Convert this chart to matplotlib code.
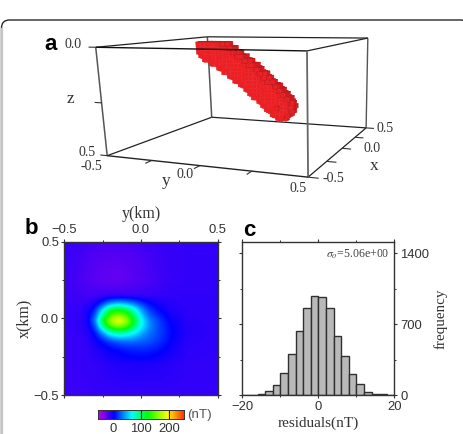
import numpy as np
import matplotlib
matplotlib.use("Agg")
import matplotlib.pyplot as plt
from matplotlib.colors import LinearSegmentedColormap
from matplotlib.collections import PolyCollection
from matplotlib.patches import FancyBboxPatch

W, H = 463, 434
SANS = "Liberation Sans"
SERIF = "Liberation Serif"
INK = "#333333"
plt.rcParams["mathtext.fontset"] = "stix"

# Panel a: body spine (km) and the 3-D box frame
spine_y = [-0.20, -0.12, 0.05, 0.19]
spine_z = [0.03, 0.067, 0.187, 0.31]
spine_x = [0.0, 0.0, 0.0, 0.0]
spine_radius = 0.07
cell_km = 0.02
box_world = [(-.5, -.5, 0), (-.5, .5, 0), (.5, .5, 0), (.5, -.5, 0),
             (-.5, -.5, .5), (-.5, .5, .5), (.5, .5, .5), (.5, -.5, .5)]
box_screen = [(96, 47), (307, 51), (368, 38), (207, 37),
              (107, 156), (308, 177), (366, 128), (212, 117)]

# Panel b: total-field anomaly (nT) on a non-uniform grid
field_y = [-.5, -.4, -.35, -.3, -.25, -.2, -.15, -.1, -.05, 0, .05, .1, .15, .2, .3, .5]
field_x = [.5, .35, .25, .15, .1, .05, -.015, -.05, -.1, -.15, -.2, -.3, -.5]
field_nT = [
    [-10, -12, -13, -14, -15, -15, -15, -15, -14, -13, -12, -11, -10, -10, -9, -9],
    [-11, -14, -17, -19, -20, -21, -21, -20, -19, -17, -15, -13, -11, -10, -9, -9],
    [-12, -15, -18, -20, -22, -23, -23, -22, -20, -18, -16, -14, -12, -10, -9, -8],
    [-11, -13, -14, -14, -13, -12, -12, -12, -12, -11, -11, -10, -9, -8, -8, -8],
    [-10, -11, -9, -3, 15, 36, 44, 40, 30, 16, 6, 0, -4, -6, -8, -8],
    [-10, -9, -3, 15, 65, 115, 130, 115, 85, 48, 22, 10, 2, -4, -7, -8],
    [-10, -8, 0, 35, 115, 170, 195, 175, 125, 72, 40, 24, 12, 3, -6, -8],
    [-10, -8, -2, 25, 92, 145, 165, 150, 112, 70, 42, 26, 14, 5, -5, -8],
    [-11, -9, -5, 8, 40, 72, 85, 80, 66, 48, 34, 25, 15, 6, -5, -8],
    [-11, -10, -7, 0, 10, 22, 30, 33, 33, 30, 26, 20, 12, 4, -6, -8],
    [-11, -10, -9, -4, 0, 5, 8, 12, 14, 15, 14, 11, 6, 1, -7, -8],
    [-11, -10, -10, -9, -7, -5, -4, -3, -3, -3, -3, -4, -5, -6, -8, -9],
    [-11, -11, -11, -10, -10, -10, -10, -10, -10, -10, -10, -9, -9, -9, -9, -9],
]
cbar_range = (-52, 252)
cbar_ticks = [0, 100, 200]

# Panel c: residual histogram
hist_edges = list(range(-20, 21, 2))
hist_counts = [1, 3, 9, 44, 102, 214, 405, 632, 862, 977,
               967, 862, 582, 388, 207, 105, 28, 14, 5, 2]


def px_axes(fig, left, top, right, bottom):
    return fig.add_axes([left / W, 1 - bottom / H, (right - left) / W, (bottom - top) / H])


def fit_projection(world, screen):
    # Least-squares 3-D to 2-D projective camera
    rows, rhs = [], []
    for (a, b, c), (u, v) in zip(world, screen):
        rows.append([a, b, c, 1, 0, 0, 0, 0, -u * a, -u * b, -u * c]); rhs.append(u)
        rows.append([0, 0, 0, 0, a, b, c, 1, -v * a, -v * b, -v * c]); rhs.append(v)
    p = np.linalg.lstsq(np.array(rows, float), np.array(rhs, float), rcond=None)[0]
    return np.append(p, 1.0).reshape(3, 4)


P = fit_projection(box_world, box_screen)


def project(x, y, z):
    u, v, w = P @ np.array([x, y, z, 1.0])
    return u / w, v / w


def body_cells():
    nodes = np.column_stack([spine_x, spine_y, spine_z])
    axis = np.arange(-0.5, 0.5, cell_km) + cell_km / 2
    cells = []
    for cx in axis[np.abs(axis) < 0.12]:
        for cy in axis:
            for cz in axis[axis > 0]:
                q = np.array([cx, cy, cz])
                best = 9.0
                for a, b in zip(nodes[:-1], nodes[1:]):
                    t = np.clip((q - a) @ (b - a) / ((b - a) @ (b - a)), 0, 1)
                    best = min(best, np.linalg.norm(q - a - t * (b - a)))
                if best <= spine_radius:
                    cells.append((round(cx, 4), round(cy, 4), round(cz, 4)))
    return cells


fig = plt.figure(figsize=(W / 100, H / 100), dpi=100, facecolor="white")

# Full-figure pixel layer for the card outline and the 3-D panel
ov = fig.add_axes([0, 0, 1, 1], zorder=0)
ov.set_xlim(0, W)
ov.set_ylim(H, 0)
ov.axis("off")
ov.add_patch(FancyBboxPatch((1.5, 20), W + 4, H + 20, boxstyle="round,pad=0,rounding_size=8",
                            fc="white", ec="#2a2a2a", lw=1.0))
ov.plot([1.5, 1.5], [29, H], color="#c4c4c4", lw=1.6)


def edge(a, b, color="#2e2e2e", lw=1.0, z=2):
    p, q = project(*a), project(*b)
    ov.plot([p[0], q[0]], [p[1], q[1]], color=color, lw=lw, zorder=z, solid_capstyle="butt")


# Rear edges go behind the body, the near ones in front of it
edge((.5, -.5, 0), (.5, -.5, .5), "#555555", 1.1, 2)
edge((.5, -.5, 0), (.5, .5, 0), "#222222", 0.9, 2)
edge((.5, .5, 0), (.5, .5, .5), "#555555", 1.0, 2)
edge((.5, -.5, .5), (.5, .5, .5), "#222222", 0.9, 2)
edge((-.5, -.5, 0), (.5, -.5, 0), "#222222", 0.9, 2)
edge((-.5, .5, 0), (.5, .5, 0), "#222222", 0.9, 2)
edge((-.5, -.5, .5), (.5, -.5, .5), "#222222", 0.9, 2)
edge((-.5, .5, .5), (.5, .5, .5), "#222222", 0.9, 2)
edge((-.5, -.5, 0), (-.5, -.5, .5), "#555555", 1.1, 2)

cells = body_cells()
occupied = set(cells)
cells.sort(key=lambda c: -(c[0] + 0.35 * c[2] - 0.5 * c[1]))
h = cell_km / 2
step = cell_km
polys, fills, lines = [], [], []
RED, TOP, SIDE = "#ea2024", "#e01e22", "#d81c20"
for cx, cy, cz in cells:
    x0, x1, y0, y1, z0, z1 = cx - h, cx + h, cy - h, cy + h, cz - h, cz + h
    def free(dx, dy, dz):
        return (round(cx + dx, 4), round(cy + dy, 4), round(cz + dz, 4)) not in occupied
    if free(0, 0, -step):
        polys.append([project(x0, y0, z0), project(x0, y1, z0), project(x1, y1, z0), project(x1, y0, z0)])
        fills.append(TOP); lines.append("#c0181c")
    if free(0, step, 0):
        polys.append([project(x0, y1, z0), project(x1, y1, z0), project(x1, y1, z1), project(x0, y1, z1)])
        fills.append(SIDE); lines.append("#c0181c")
    if free(-step, 0, 0):
        polys.append([project(x0, y0, z0), project(x0, y1, z0), project(x0, y1, z1), project(x0, y0, z1)])
        fills.append(RED); lines.append(RED)
ov.add_collection(PolyCollection(polys, facecolors=fills, edgecolors=lines, linewidths=0.35, zorder=3))

edge((-.5, -.5, 0), (-.5, .5, 0), "#111111", 1.0, 4)
edge((-.5, .5, 0), (-.5, .5, .5), "#666666", 1.3, 4)
edge((-.5, -.5, .5), (-.5, .5, .5), "#222222", 1.0, 4)

# Box ticks, pushed outward along each edge
for t in [-.5, -.25, 0, .25, .5]:
    edge((t, .5, .5), (t, .5 + 0.045, .5), "#333333", 0.8, 4)
for t in [-.25, 0, .25]:
    edge((-.5, t, .5), (-.5 - 0.05, t, .5), "#333333", 0.8, 4)
for t in [0, .25, .5]:
    edge((-.5, -.5, t), (-.5, -.5 - 0.04, t), "#333333", 0.8, 4)


def label(x, y, s, size=10, family=SERIF, color=INK, **kw):
    kw.setdefault("ha", "center")
    kw.setdefault("va", "center")
    return ov.text(x, y, s, fontsize=size, family=family, color=color, zorder=6, **kw)


label(73, 45, "0.0")
label(70, 99, "z", size=12.5)
label(87, 153, "0.5")
label(91, 167, "-0.5")
label(166, 181, "y", size=12.5)
label(185, 175, "0.0")
label(298, 188, "0.5")
label(385, 128, "0.5")
label(372, 149, "0.0")
label(333, 179, "-0.5")
label(374, 166, "x", size=12.5)
label(51, 44, "a", size=16, family=SANS, color="black", weight="bold")
label(31, 229, "b", size=16, family=SANS, color="black", weight="bold")
label(249, 230, "c", size=16, family=SANS, color="black", weight="bold")

# Panel b: anomaly map
anomaly_cmap = LinearSegmentedColormap.from_list(
    "anomaly",
    [(0.0, (0.78, 0.0, 0.90)), ((5 + 52) / 304, (0.0, 0.0, 1.0)), ((67 + 52) / 304, (0.0, 1.0, 1.0)),
     ((125 + 52) / 304, (0.0, 1.0, 0.0)), ((193 + 52) / 304, (1.0, 1.0, 0.0)), (1.0, (1.0, 0.2, 0.0))],
)
fine_y = np.linspace(-.5, .5, 301)
fine_x = np.linspace(.5, -.5, 301)
table = np.array(field_nT, float)
by_row = np.array([np.interp(fine_y, field_y, row) for row in table])
grid = np.array([np.interp(fine_x, field_x[::-1], col[::-1]) for col in by_row.T]).T
kernel = np.ones(11) / 11
padded = np.pad(grid, 5, mode="edge")
padded = np.apply_along_axis(lambda r: np.convolve(r, kernel, mode="same"), 0, padded)
padded = np.apply_along_axis(lambda r: np.convolve(r, kernel, mode="same"), 1, padded)
grid = padded[5:-5, 5:-5]

axb = px_axes(fig, 64.3, 241.7, 217.7, 395)
axb.imshow(grid, extent=(-.5, .5, -.5, .5), cmap=anomaly_cmap, vmin=cbar_range[0], vmax=cbar_range[1],
           aspect="auto", interpolation="bilinear")
axb.set_xticks([-.5, 0, .5], ["\u22120.5", "0.0", "0.5"])
axb.set_yticks([-.5, 0, .5], ["\u22120.5", "0.0", "0.5"])
axb.set_xticks([-.25, .25], minor=True)
axb.set_yticks([-.25, .25], minor=True)
axb.tick_params(which="major", length=2.4, width=0.8, top=True, right=True, bottom=True, left=True,
                labeltop=True, labelbottom=False, labelsize=9.4, pad=1.5, colors=INK)
axb.tick_params(which="minor", length=1.3, width=0.7, top=True, right=True, bottom=True, left=True, colors=INK)
for t in axb.get_xticklabels() + axb.get_yticklabels():
    t.set_family(SANS)
axb.set_xlabel("y(km)", fontsize=11.5, family=SERIF, color=INK, labelpad=4.5)
axb.xaxis.set_label_position("top")
axb.set_ylabel("x(km)", fontsize=11.5, family=SERIF, color=INK, labelpad=1)
for s in axb.spines.values():
    s.set_linewidth(1.0)
    s.set_color("#333333")

# Colour scale below the map
axcb = px_axes(fig, 98, 410, 184, 419)
axcb.imshow(np.linspace(cbar_range[0], cbar_range[1], 256)[None, :], extent=(*cbar_range, 0, 1),
            cmap=anomaly_cmap, vmin=cbar_range[0], vmax=cbar_range[1], aspect="auto")
axcb.set_yticks([])
axcb.set_xticks(cbar_ticks, [str(v) for v in cbar_ticks])
axcb.tick_params(axis="x", direction="in", length=6.5, width=0.8, labelsize=9.4, pad=3,
                 labelcolor=INK, color="#222222")
for t in axcb.get_xticklabels():
    t.set_family(SANS)
for s in axcb.spines.values():
    s.set_linewidth(0.7)
    s.set_color("#333333")
label(199.5, 415, "(nT)", size=9.6, family=SANS, color="#555555")

# Panel c: histogram of residuals
axc = px_axes(fig, 242.3, 242.3, 394.3, 395)
axc.bar(hist_edges[:-1], hist_counts, width=2, align="edge", color="#b9b9b9", edgecolor="#303030", linewidth=1.0)
axc.set_xlim(-20, 20)
axc.set_ylim(0, 1510)
axc.set_xticks([-20, 0, 20], ["\u221220", "0", "20"])
axc.set_xticks([-10, 10], minor=True)
axc.set_yticks([0, 700, 1400], ["0", "700", "1400"])
axc.set_yticks([350, 1050], minor=True)
axc.tick_params(which="major", length=2.4, width=0.8, top=True, left=True, right=True, bottom=True,
                labelleft=False, labelright=True, labelsize=9.4, pad=2, colors=INK)
axc.tick_params(which="minor", length=1.3, width=0.7, top=True, left=True, right=True, bottom=True, colors=INK)
for t in axc.get_xticklabels() + axc.get_yticklabels():
    t.set_family(SANS)
axc.set_xlabel("residuals(nT)", fontsize=11, family=SERIF, color=INK, labelpad=2.5)
axc.yaxis.set_label_position("right")
axc.set_ylabel("frequency", fontsize=10.8, family=SERIF, color=INK, labelpad=3)
axc.text(0.965, 0.925, r"$\sigma_{o}$=5.06e+00", transform=axc.transAxes, ha="right", va="center",
         fontsize=8.6, family=SERIF, color="#444444")
for s in axc.spines.values():
    s.set_linewidth(1.0)
    s.set_color("#333333")

fig.savefig("out.png", dpi=100)
